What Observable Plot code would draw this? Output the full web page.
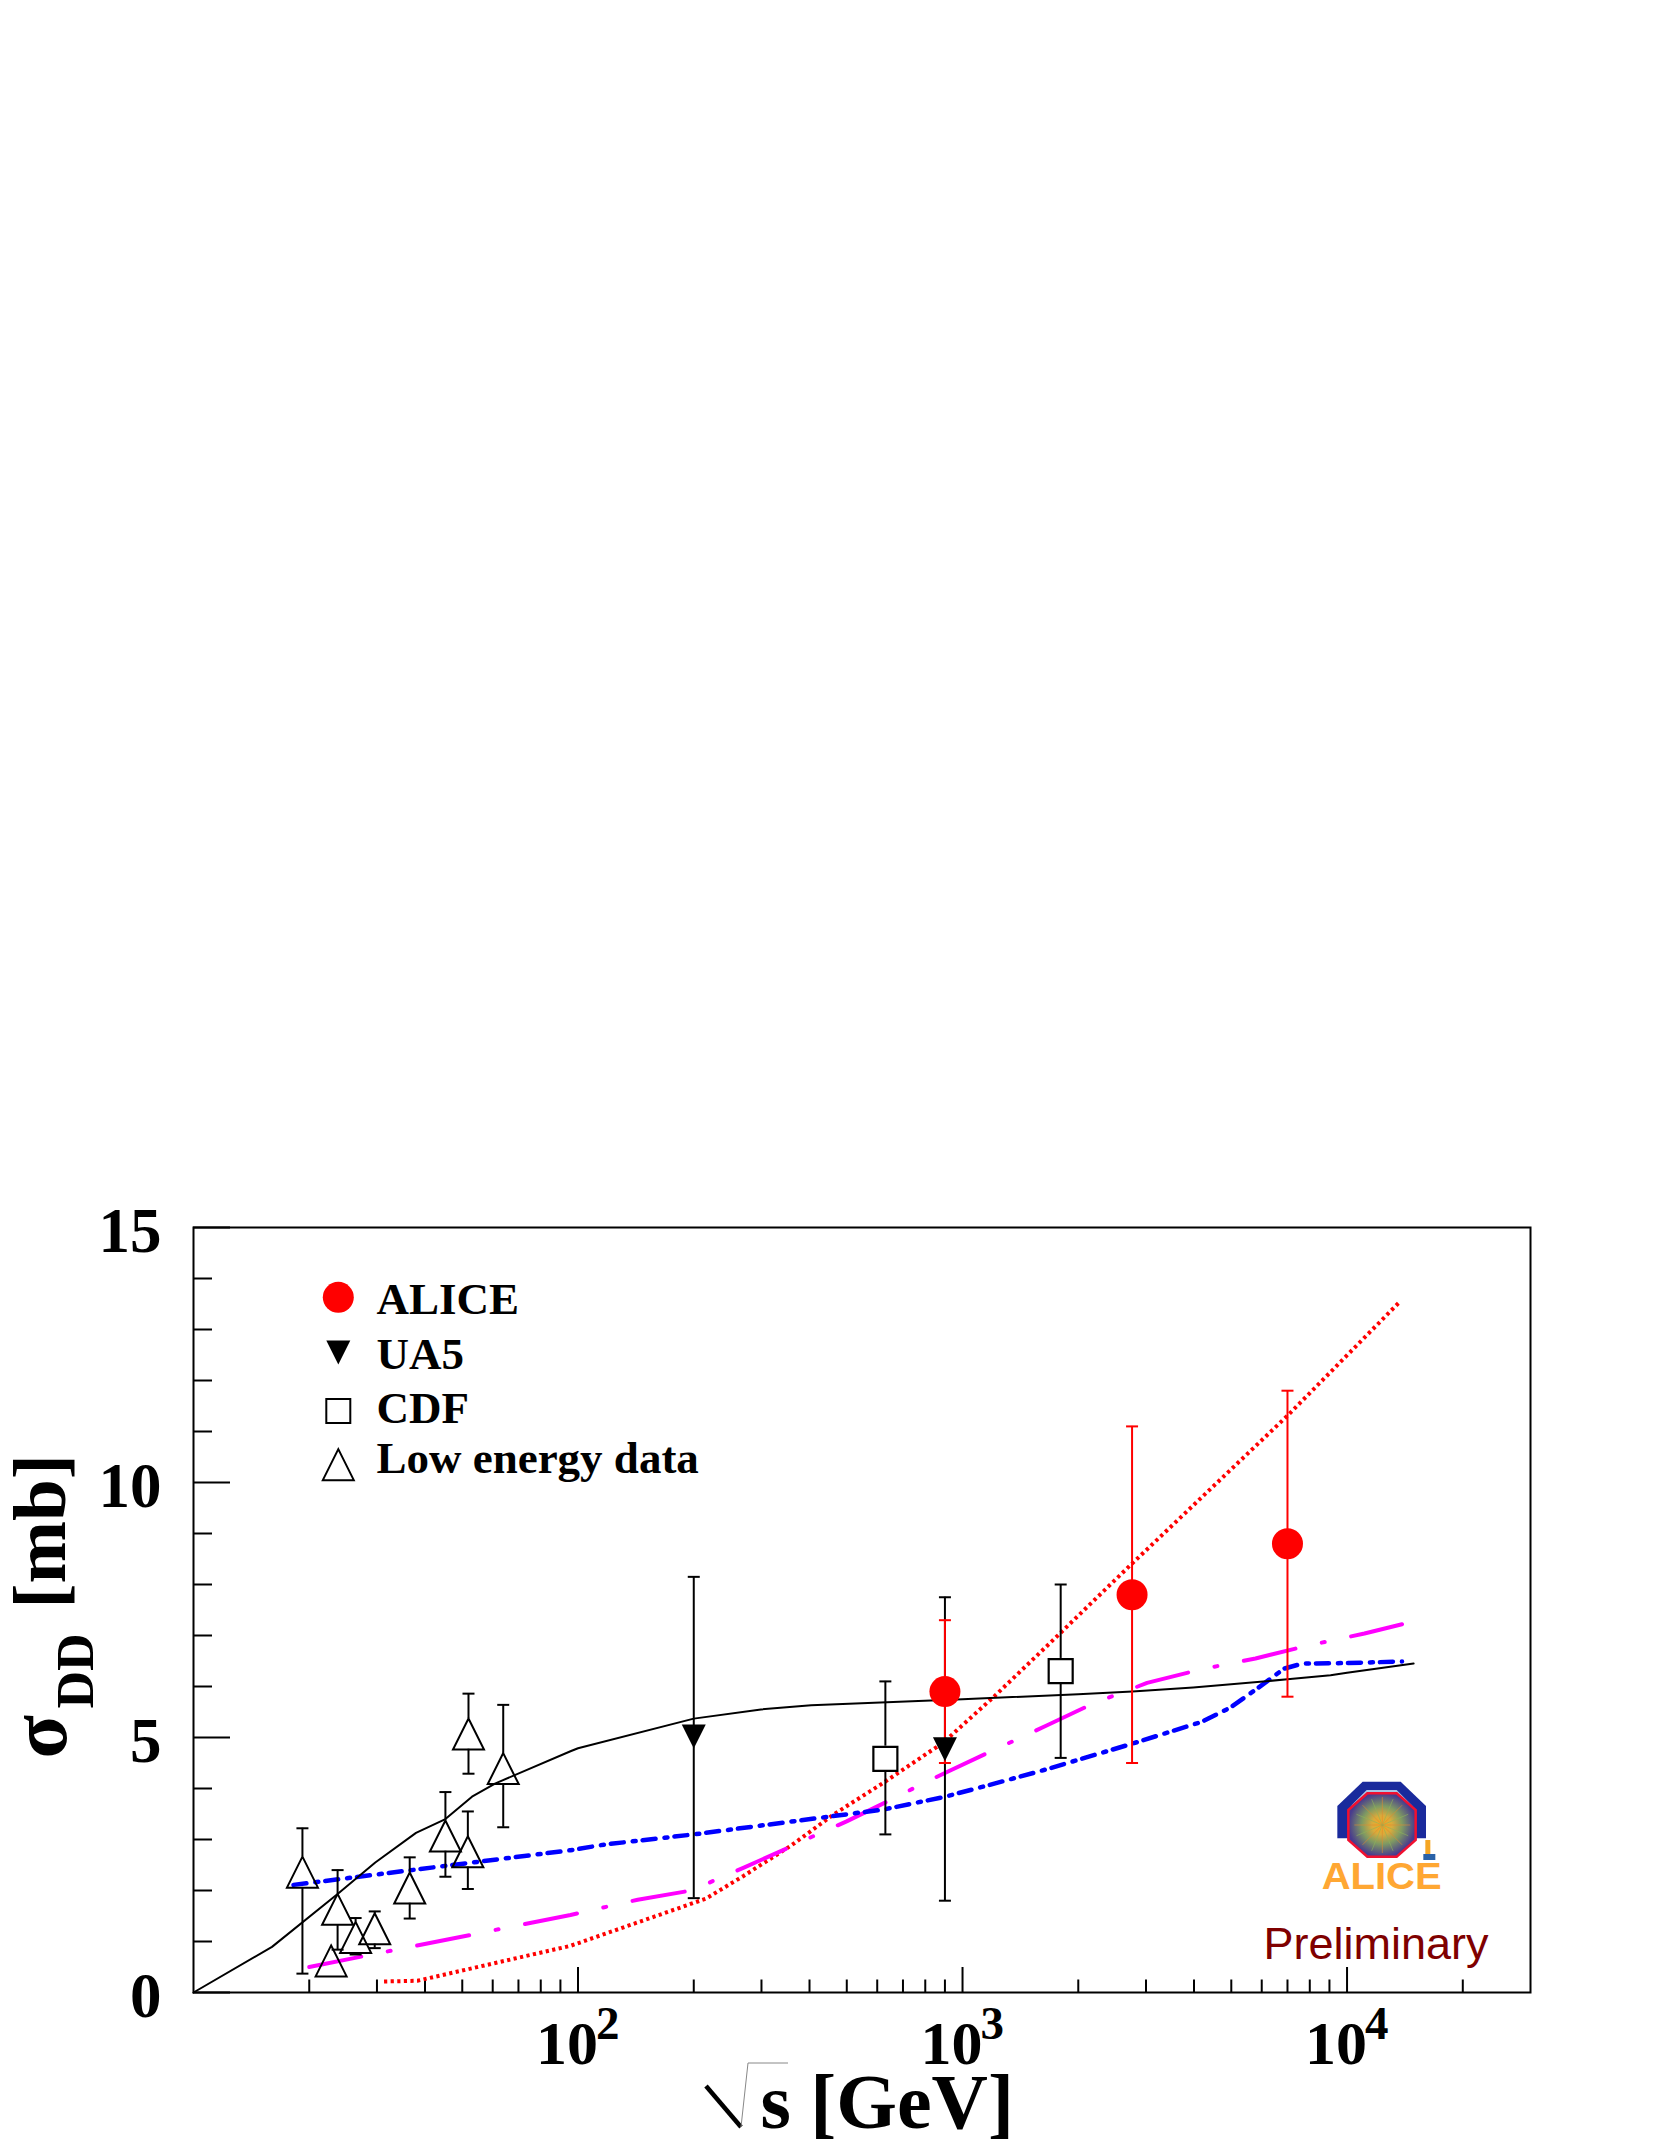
<!DOCTYPE html>
<html>
<head>
<meta charset="utf-8">
<script src="https://cdn.jsdelivr.net/npm/d3@7"></script>
<script src="https://cdn.jsdelivr.net/npm/@observablehq/plot@0.6"></script>
<style>
  body { margin: 0; background: #fff; }
</style>
</head>
<body>
<div id="chart"></div>
<script>
// measured points, sqrt(s) in GeV, cross section in mb
const aliceX = [900, 2760, 7000];
const aliceY = [5.9, 7.8, 8.8];
const aliceUp = [7.3, 11.1, 11.8];
const aliceLow = [4.5, 4.5, 5.8];

const ua5X = [200, 900];
const ua5Y = [5.02, 4.77];
const ua5Up = [8.15, 7.75];
const ua5Low = [1.85, 1.8];

const cdfX = [630, 1800];
const cdfY = [4.58, 6.3];
const cdfUp = [6.1, 8.0];
const cdfLow = [3.1, 4.6];

const lowX = [19.2, 22.8, 23.7, 26.4, 29.6, 36.5, 45.2, 51.7, 51.9, 63.9];
const lowY = [2.36, 0.62, 1.63, 1.08, 1.25, 2.05, 3.07, 2.76, 5.07, 4.39];
const lowUp = [3.22, 0.62, 2.4, 1.46, 1.59, 2.65, 3.93, 3.55, 5.86, 5.64];
const lowLow = [0.37, 0.62, 0.84, 0.745, 0.87, 1.45, 2.27, 2.03, 4.29, 3.24];

// model curves
const blackX = [10, 16, 23.7, 29.7, 37.9, 45.2, 53, 61, 95.6, 100, 200, 299, 404, 1000, 2000, 2765, 3980, 7000, 9060, 10000, 14900];
const blackY = [0, 0.895, 1.93, 2.55, 3.13, 3.4, 3.84, 4.1, 4.73, 4.79, 5.37, 5.55, 5.63, 5.75, 5.85, 5.9, 5.98, 6.14, 6.22, 6.27, 6.45];

const blueX = [18.2, 95.6, 117, 200, 411, 625, 891, 1203, 1660, 2765, 4200, 4980, 5840, 6860, 7660, 10000, 13900];
const blueY = [2.11, 2.79, 2.9, 3.1, 3.41, 3.59, 3.83, 4.09, 4.38, 4.88, 5.31, 5.59, 5.96, 6.35, 6.45, 6.46, 6.49];

const magentaX = [20, 95.6, 143, 197, 270, 358, 421, 498, 660, 771, 897, 1203, 1400, 1660, 2193, 3020, 4140, 4890, 5780, 7890, 9370, 11100, 13900];
const magentaY = [0.5, 1.52, 1.82, 2.0, 2.45, 2.86, 3.11, 3.35, 3.8, 4.06, 4.3, 4.75, 4.98, 5.24, 5.67, 6.07, 6.33, 6.44, 6.55, 6.8, 6.92, 7.04, 7.22];

const redX = [31.3, 38.2, 95.6, 215, 270, 358, 464, 625, 891, 1203, 1698, 2716, 7000, 13700];
const redY = [0.216, 0.23, 0.915, 1.84, 2.29, 2.88, 3.5, 4.12, 4.9, 5.79, 6.87, 8.36, 11.31, 13.54];

// axes
const xMajor = [100, 1000, 10000];
const xExponent = ["2", "3", "4"];
const xMinor = [20, 30, 40, 50, 60, 70, 80, 90, 200, 300, 400, 500, 600, 700, 800, 900,
  2000, 3000, 4000, 5000, 6000, 7000, 8000, 9000, 20000];
const yMajor = [0, 5, 10, 15];
const yMinor = [1, 2, 3, 4, 6, 7, 8, 9, 11, 12, 13, 14];

// legend, placed in data units
const legendLabels = ["ALICE", "UA5", "CDF", "Low energy data"];
const legendMarkY = [13.63, 12.55, 11.4, 10.35];
const legendTextY = [13.58, 12.5, 11.44, 10.46];

const width = 1661, height = 2149;
const marginLeft = 193, marginRight = 131, marginTop = 1227, marginBottom = 157;

const serif = "Liberation Serif";
const sans = "Liberation Sans";

function rows(xs, ys, ups, lows) {
  return xs.map((x, i) => ({x, y: ys[i], up: ups[i], low: lows[i]}));
}
function zip(xs, ys) {
  return xs.map((x, i) => ({x, y: ys[i]}));
}

const radius = s => Math.sqrt(s / Math.PI);
const triUp = {draw(c, s) { const r = radius(s); c.moveTo(0, -r); c.lineTo(r, r); c.lineTo(-r, r); c.closePath(); }};
const triDown = {draw(c, s) { const r = radius(s); c.moveTo(0, r); c.lineTo(r, -r); c.lineTo(-r, -r); c.closePath(); }};
const box = {draw(c, s) { const r = radius(s); c.rect(-r, -r, 2 * r, 2 * r); }};
const cap = {draw(c, s) { const r = radius(s); c.moveTo(-r, 0); c.lineTo(r, 0); }};

// absolute page position for a text mark
function at(px, py) {
  return {frameAnchor: "top-left", dx: px - marginLeft, dy: py - marginTop};
}
function label(txt, px, py, o) {
  return Plot.text([txt], {text: d => d, ...at(px, py), textAnchor: "start", lineAnchor: "bottom",
    fontFamily: serif, fontWeight: "bold", fill: "black", ...o});
}

// error bars leave a gap where the marker sits
function errors(data, gap, color) {
  return [
    Plot.ruleX(data, {x: "x", y1: "up", y2: d => d.y + gap, stroke: color, strokeWidth: 2}),
    Plot.ruleX(data, {x: "x", y1: "low", y2: d => d.y - gap, stroke: color, strokeWidth: 2}),
    Plot.dot(data, {x: "x", y: "up", symbol: cap, r: 6, stroke: color, strokeWidth: 2}),
    Plot.dot(data, {x: "x", y: "low", symbol: cap, r: 6, stroke: color, strokeWidth: 2})
  ];
}

function sqrtSign() {
  const g = d3.create("svg:g").attr("fill", "none").attr("stroke", "black");
  g.append("path").attr("d", "M706 2086L741 2127").attr("stroke-width", 4.5);
  g.append("path").attr("d", "M741 2127L748 2063H788").attr("stroke-width", 1).attr("stroke", "#888");
  return g.node();
}

function logo() {
  const svg = d3.create("svg:g");
  const p = pts => pts.map(([x, y]) => [1250 + x / 3, 1740 + y / 3].join(",")).join(" ");
  const cx = 1250 + 397 / 3, cy = 1740 + 255 / 3;
  const grad = svg.append("defs").append("radialGradient").attr("id", "aliceCore");
  grad.append("stop").attr("offset", "0%").attr("stop-color", "#fba91e");
  grad.append("stop").attr("offset", "30%").attr("stop-color", "#d9ab3c");
  grad.append("stop").attr("offset", "60%").attr("stop-color", "#7f9a62");
  grad.append("stop").attr("offset", "100%").attr("stop-color", "#483a8e");
  svg.append("polygon").attr("fill", "#1a2a9c")
    .attr("points", p([[262, 295], [262, 198], [338, 125], [452, 125], [528, 198], [528, 295]]));
  svg.append("polygon").attr("fill", "#a9c4e4")
    .attr("points", p([[300, 200], [350, 150], [440, 150], [490, 200], [440, 160], [352, 160]]));
  svg.append("polygon").attr("fill", "url(#aliceCore)").attr("stroke", "#f01030").attr("stroke-width", 2.5)
    .attr("points", p([[295, 210], [352, 160], [440, 160], [497, 210], [497, 300], [440, 350], [352, 350], [295, 300]]));
  for (let a = 0; a < 16; a++) {
    const t = a * Math.PI / 8;
    svg.append("line").attr("x1", cx).attr("y1", cy)
      .attr("x2", cx + 28 * Math.cos(t)).attr("y2", cy + 28 * Math.sin(t))
      .attr("stroke", a % 2 ? "#8fb35a" : "#e08a30").attr("stroke-width", 1).attr("opacity", 0.6);
  }
  svg.append("rect").attr("x", 1250 + 526 / 3).attr("y", 1740 + 300 / 3).attr("width", 5).attr("height", 14).attr("fill", "#f5a623");
  svg.append("rect").attr("x", 1250 + 520 / 3).attr("y", 1740 + 342 / 3).attr("width", 12).attr("height", 6).attr("fill", "#2a62a8");
  svg.append("text").text("ALICE").attr("x", 1250 + 215 / 3).attr("y", 1740 + 447 / 3)
    .attr("text-anchor", "start")
    .attr("font-family", sans).attr("font-weight", "bold").attr("font-size", 37)
    .attr("textLength", 120).attr("lengthAdjust", "spacingAndGlyphs").attr("fill", "#ffa733");
  return svg.node();
}

const alice = rows(aliceX, aliceY, aliceUp, aliceLow);
const ua5 = rows(ua5X, ua5Y, ua5Up, ua5Low);
const cdf = rows(cdfX, cdfY, cdfUp, cdfLow);
const low = rows(lowX, lowY, lowUp, lowLow);

const legendX = 23.8, legendTextX = 29.9;

const chart = Plot.plot({
  width, height, marginLeft, marginRight, marginTop, marginBottom,
  style: {fontFamily: serif, background: "white", overflow: "visible"},
  x: {type: "log", domain: [10, 30000], range: [193, 1530]},
  y: {domain: [0, 15], range: [1992, 1227]},
  marks: [
    // ticks point into the frame
    Plot.axisX({anchor: "bottom", ticks: xMinor, tickSize: -12.5, tickFormat: () => "", strokeWidth: 2, label: null}),
    Plot.axisX({anchor: "bottom", ticks: xMajor, tickSize: -25, tickFormat: () => "", strokeWidth: 2, label: null}),
    Plot.axisY({anchor: "left", ticks: yMinor, tickSize: -19, tickFormat: () => "", strokeWidth: 2, label: null}),
    Plot.axisY({anchor: "left", ticks: yMajor, tickSize: -37, tickFormat: () => "", strokeWidth: 2, label: null}),

    // tick labels
    Plot.axisY({anchor: "left", ticks: yMajor, tickSize: 0, tickPadding: 32, dy: 4, tickFormat: d => d,
      fontSize: 63, fontWeight: "bold", fill: "black", label: null}),
    Plot.text(xMajor, {x: d => d, frameAnchor: "bottom", text: () => "10", textAnchor: "start", lineAnchor: "bottom",
      dx: -42, dy: 71, fontSize: 62, fontWeight: "bold", fill: "black"}),
    Plot.text(xMajor, {x: d => d, frameAnchor: "bottom", text: (d, i) => xExponent[i], textAnchor: "start", lineAnchor: "bottom",
      dx: 18, dy: 46, fontSize: 47, fontWeight: "bold", fill: "black"}),

    // axis titles
    label("s [GeV]", 760, 2127, {fontSize: 78}),
    sqrtSign,
    label("\u03c3", 65, 1758, {fontSize: 80, rotate: -90}),
    label("DD", 92, 1708, {fontSize: 52, rotate: -90}),
    label("[mb]", 64, 1608, {fontSize: 75, rotate: -90}),

    // model curves
    Plot.line(zip(redX, redY), {x: "x", y: "y", stroke: "#ff0000", strokeWidth: 4, strokeDasharray: "3.2,3.4", strokeLinecap: "butt"}),
    Plot.line(zip(magentaX, magentaY), {x: "x", y: "y", stroke: "#ff00ff", strokeWidth: 4, strokeDasharray: "53,27,3,27"}),
    Plot.line(zip(blueX, blueY), {x: "x", y: "y", stroke: "#0000ff", strokeWidth: 4.5, strokeDasharray: "13,9,3,7"}),
    Plot.line(zip(blackX, blackY), {x: "x", y: "y", stroke: "black", strokeWidth: 2}),

    // data
    ...errors(low.filter(d => d.up > d.y), 0.3, "black"),
    ...errors(cdf, 0.25, "black"),
    ...errors(ua5, 0.2, "black"),
    ...errors(alice, 0.2, "#ff0000"),
    Plot.dot(low, {x: "x", y: "y", symbol: triUp, r: 15.5, stroke: "black", strokeWidth: 2, fill: "none"}),
    Plot.dot(cdf, {x: "x", y: "y", symbol: box, r: 12, stroke: "black", strokeWidth: 2.2, fill: "white"}),
    Plot.dot(ua5, {x: "x", y: "y", symbol: triDown, r: 12, fill: "black", stroke: "none"}),
    Plot.dot(alice, {x: "x", y: "y", r: 15.5, fill: "#ff0000", stroke: "none"}),

    // legend
    Plot.dot([legendX], {x: d => d, y: () => legendMarkY[0], r: 15.5, fill: "#ff0000", stroke: "none"}),
    Plot.dot([legendX], {x: d => d, y: () => legendMarkY[1], symbol: triDown, r: 12, fill: "black", stroke: "none"}),
    Plot.dot([legendX], {x: d => d, y: () => legendMarkY[2], symbol: box, r: 12, stroke: "black", strokeWidth: 2, fill: "none"}),
    Plot.dot([legendX], {x: d => d, y: () => legendMarkY[3], symbol: triUp, r: 15.5, stroke: "black", strokeWidth: 2, fill: "none"}),
    Plot.text(legendLabels, {x: () => legendTextX, y: (d, i) => legendTextY[i], text: d => d, textAnchor: "start",
      fontSize: 45, fontWeight: "bold", fill: "black"}),

    // logo and status
    logo,
    Plot.text(["Preliminary"], {text: d => d, ...at(1263, 1958), textAnchor: "start", lineAnchor: "bottom",
      fontFamily: sans, fontSize: 45, fill: "#7f0000"}),

    Plot.frame({stroke: "black", strokeWidth: 2})
  ]
});
document.getElementById("chart").append(chart);
</script>
</body>
</html>
